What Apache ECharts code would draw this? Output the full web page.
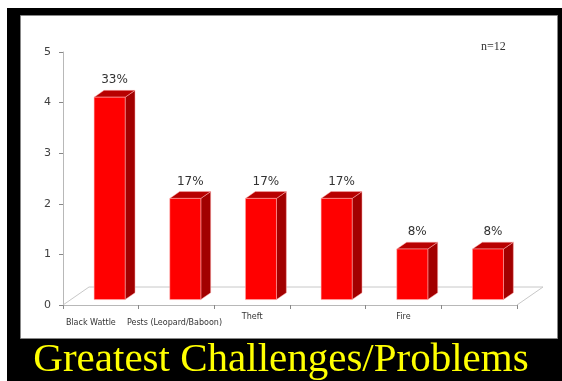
<!DOCTYPE html>
<html>
<head>
<meta charset="utf-8">
<script src="https://cdn.jsdelivr.net/npm/echarts@6/dist/echarts.min.js"></script>
<style>html,body{margin:0;padding:0;background:#fff;}#c{width:562px;height:381px;}</style>
</head>
<body>
<div id="c"></div>
<script>
var categories = ["Black Wattle", "Pests (Leopard/Baboon)", "Theft", "", "Fire", ""];
var counts = [4, 2, 2, 2, 1, 1];
var percentLabels = ["33%", "17%", "17%", "17%", "8%", "8%"];
var yTicks = [0, 1, 2, 3, 4, 5];
var titleText = "Greatest Challenges/Problems";
var noteText = "n=12";

var chart = echarts.init(document.getElementById('c'), null, {renderer: 'canvas'});

var DEPTH_X = 26, DEPTH_Y = -18;
var FRONT_F = 0.30, BACK_F = 0.68;

var labelStyles = [
  {padding: [6, 20, 0, 0]},
  {padding: [6, 4, 0, 0]},
  {},
  {},
  {},
  {}
];

var xData = categories.map(function (c, i) {
  return {value: c, textStyle: labelStyles[i]};
});

function renderFloor(params, api) {
  var cs = params.coordSys;
  var x0 = cs.x, x1 = cs.x + cs.width, y0 = cs.y + cs.height;
  var st = {stroke: '#c8c8c8', lineWidth: 1, fill: null};
  return {
    type: 'group',
    children: [
      {type: 'line', shape: {x1: x0, y1: y0, x2: x0 + DEPTH_X, y2: y0 + DEPTH_Y}, style: st},
      {type: 'line', shape: {x1: x0 + DEPTH_X, y1: y0 + DEPTH_Y, x2: x1 + DEPTH_X, y2: y0 + DEPTH_Y}, style: st},
      {type: 'line', shape: {x1: x1, y1: y0, x2: x1 + DEPTH_X, y2: y0 + DEPTH_Y}, style: st}
    ]
  };
}

function renderBar(params, api) {
  var idx = api.value(0);
  var val = api.value(1);
  var top = api.coord([idx, val]);
  var base = api.coord([idx, 0]);
  var band = api.size([1, 0])[0];
  var w = band * 0.41;
  var fx = DEPTH_X * FRONT_F, fy = DEPTH_Y * FRONT_F;
  var bx = DEPTH_X * (BACK_F - FRONT_F), by = DEPTH_Y * (BACK_F - FRONT_F);
  var left = top[0] - w / 2 + fx + 1;
  var right = left + w;
  var yt = top[1] + fy;
  var yb = base[1] + fy;
  return {
    type: 'group',
    children: [
      {type: 'polygon', shape: {points: [[right, yt], [right, yb], [right + bx, yb + by], [right + bx, yt + by]]},
        style: {fill: '#a20000', stroke: '#ffb0b0', lineWidth: 0.5}},
      {type: 'polygon', shape: {points: [[left, yt], [right, yt], [right + bx, yt + by], [left + bx, yt + by]]},
        style: {fill: '#b80000', stroke: '#ffb0b0', lineWidth: 0.5}},
      {type: 'rect', shape: {x: left, y: yt, width: w, height: yb - yt},
        style: {fill: '#ff0000', stroke: '#ffb0b0', lineWidth: 0.5}},
      {type: 'text', x: (left + right + bx) / 2, y: yt + by - 4,
        style: {text: percentLabels[params.dataIndex], fill: '#333', font: '12px "DejaVu Sans"', align: 'center', verticalAlign: 'bottom'}}
    ]
  };
}

var option = {
  animation: false,
  backgroundColor: '#ffffff',
  graphic: [
    {type: 'rect', z: -10, shape: {x: 7, y: 8, width: 555, height: 373}, style: {fill: '#000'}},
    {type: 'rect', z: -9, shape: {x: 20.5, y: 15.5, width: 537, height: 323}, style: {fill: '#fff', stroke: '#888', lineWidth: 1}}
  ],
  title: [
    {text: titleText, left: 'center', top: 340, padding: 0,
      textStyle: {color: '#ffff00', fontFamily: 'Liberation Serif', fontSize: 41, fontWeight: 'normal'}},
    {text: noteText, left: 481, top: 41, padding: 0,
      textStyle: {color: '#333', fontFamily: 'Liberation Serif', fontSize: 12, fontWeight: 'normal'}}
  ],
  grid: {left: 63, right: 45, top: 52, bottom: 76},
  xAxis: {
    type: 'category',
    data: xData,
    axisLine: {lineStyle: {color: '#b8b8b8'}},
    axisTick: {show: true, length: 4, interval: 0, lineStyle: {color: '#888'}},
    axisLabel: {interval: 0, margin: 8, color: '#333', fontFamily: 'DejaVu Sans', fontSize: 8}
  },
  yAxis: {
    type: 'value',
    min: 0, max: 5, interval: 1,
    axisLine: {show: true, lineStyle: {color: '#b8b8b8'}},
    axisTick: {show: true, length: 4, lineStyle: {color: '#888'}},
    splitLine: {show: false},
    axisLabel: {margin: 12, color: '#404040', fontFamily: 'DejaVu Sans', fontSize: 11,
      formatter: function (v) { return yTicks.indexOf(v) >= 0 ? String(v) : ''; }}
  },
  series: [
    {type: 'custom', renderItem: renderFloor, data: [[0]], z: 1, silent: true},
    {type: 'custom', renderItem: renderBar, encode: {x: 0, y: 1},
      data: counts.map(function (v, i) { return [i, v]; }), z: 2}
  ]
};
chart.setOption(option);
</script>
</body>
</html>
